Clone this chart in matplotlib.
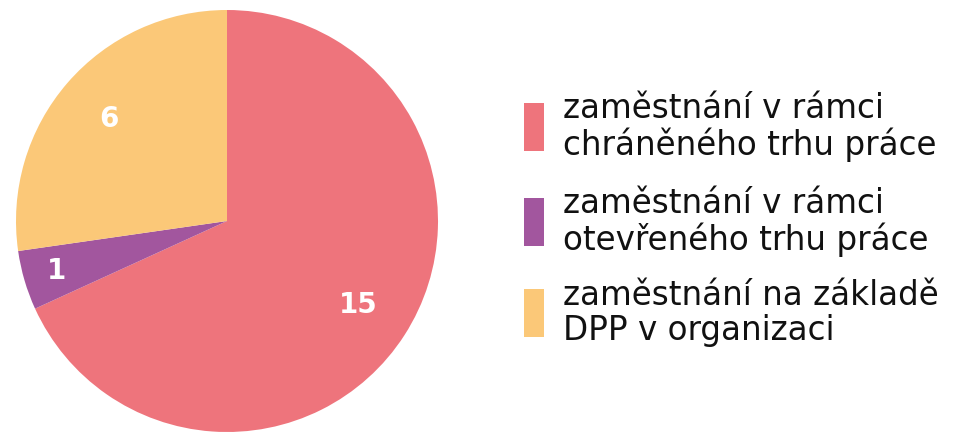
import matplotlib
matplotlib.use("Agg")
import matplotlib.pyplot as plt
from matplotlib.patches import Rectangle
import numpy as np

categories = ["zaměstnání v rámci\nchráněného trhu práce",
              "zaměstnání v rámci\notevřeného trhu práce",
              "zaměstnání na základě\nDPP v organizaci"]
values = [15, 1, 6]
colors = ["#EE747C", "#A2569E", "#FBC878"]
label_dist = [0.74, 0.84, 0.74]

W, H = 967, 432
fig = plt.figure(figsize=(W / 100, H / 100), dpi=100)
ax = fig.add_axes([16 / W, 0 / H, 422 / W, 422 / H])
wedges, _ = ax.pie(values, colors=colors, startangle=90, counterclock=False,
                   radius=1, wedgeprops=dict(linewidth=0))
ax.set_xlim(-1, 1)
ax.set_ylim(-1, 1)
ax.set_aspect("equal")
ax.axis("off")

for w, v, d in zip(wedges, values, label_dist):
    ang = np.deg2rad((w.theta1 + w.theta2) / 2)
    ax.text(d * np.cos(ang), d * np.sin(ang), str(v), ha="center", va="center",
            color="white", fontsize=20, fontweight="bold", family="DejaVu Sans")

centers = [127, 222, 313]
for c, col, lab in zip(centers, colors, categories):
    fig.patches.append(Rectangle((524 / W, 1 - (c + 24) / H), 20 / W, 48 / H,
                                 transform=fig.transFigure, color=col, lw=0))
    fig.text(563 / W, 1 - c / H, lab, ha="left", va="center", fontsize=23.5,
             family="DejaVu Sans", color="#111111", linespacing=1.08)

fig.savefig("out.png", dpi=100)
